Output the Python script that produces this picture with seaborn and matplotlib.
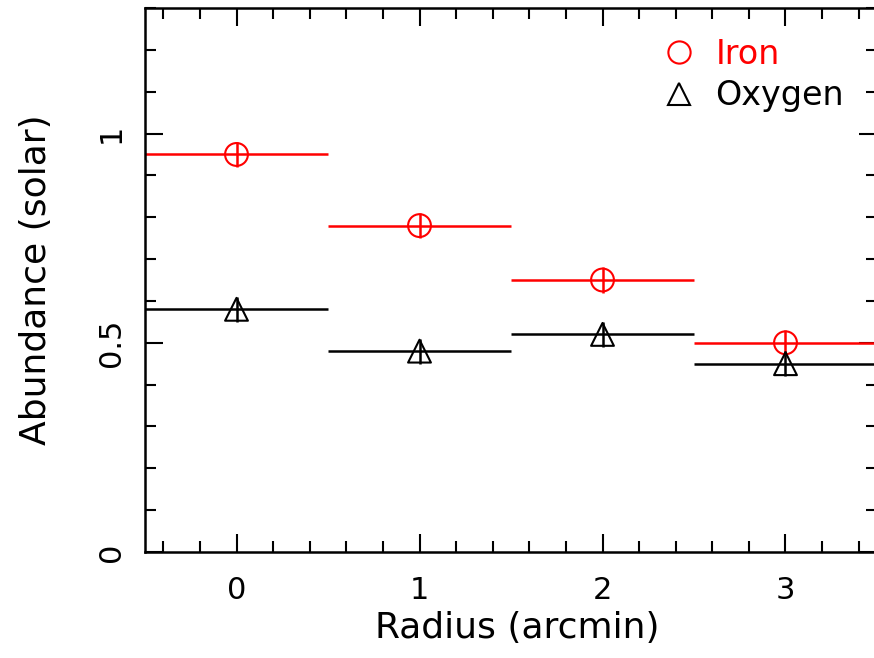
import matplotlib
matplotlib.use("Agg")
import numpy as np
import pandas as pd
import matplotlib.pyplot as plt
import seaborn as sns
from matplotlib.lines import Line2D
from matplotlib.ticker import MultipleLocator

# values
radius = [0, 1, 2, 3]
radius_halfwidth = [0.5, 0.5, 0.5, 0.5]
iron = [0.95, 0.78, 0.65, 0.50]
iron_err = [0.03, 0.03, 0.03, 0.03]
oxygen = [0.58, 0.48, 0.52, 0.45]
oxygen_err = [0.03, 0.03, 0.03, 0.03]

elements = ["Iron", "Oxygen"]
element_colors = {"Iron": "#ff0000", "Oxygen": "#000000"}
element_markers = {"Iron": "o", "Oxygen": "^"}

xticks = [0, 1, 2, 3]
xtick_labels = ["0", "1", "2", "3"]
yticks = [0, 0.5, 1.0]
ytick_labels = ["0", "0.5", "1"]

df = pd.DataFrame({
    "radius": radius * 2,
    "abundance": iron + oxygen,
    "element": ["Iron"] * len(radius) + ["Oxygen"] * len(radius),
})

sns.set_theme(style="ticks")
plt.rcParams["font.family"] = ["DejaVu Sans"]
plt.rcParams.update({"text.color": "black", "axes.labelcolor": "black",
                     "xtick.color": "black", "ytick.color": "black"})

fig = plt.figure(figsize=(8.74, 6.58), dpi=100)
ax = fig.add_axes([145 / 874, 1 - 552 / 658, 732 / 874, 544 / 658])

# error bars (bin widths in x, small errors in y)
for name, vals, errs in [("Iron", iron, iron_err), ("Oxygen", oxygen, oxygen_err)]:
    ax.errorbar(radius, vals, xerr=radius_halfwidth, yerr=errs, fmt="none",
                ecolor=element_colors[name], elinewidth=1.8, capsize=0, zorder=2)

sns.scatterplot(data=df, x="radius", y="abundance", hue="element", style="element",
                palette=element_colors, markers=element_markers, s=270,
                legend=False, ax=ax, zorder=3)
# open markers
for coll in ax.collections:
    if hasattr(coll, "get_offsets") and len(coll.get_offsets()) == len(df):
        fc = coll.get_facecolors()
        coll.set_edgecolors(fc)
        coll.set_facecolor("none")
        coll.set_linewidths(1.5)

ax.set_xlim(-0.5, 3.5)
ax.set_ylim(0, 1.3)
ax.set_xticks(xticks, labels=xtick_labels)
ax.set_yticks(yticks, labels=ytick_labels)
ax.xaxis.set_minor_locator(MultipleLocator(0.2))
ax.yaxis.set_minor_locator(MultipleLocator(0.1))

ax.tick_params(which="both", direction="in", top=True, right=True, width=1.5, color="black")
ax.tick_params(which="major", length=13)
ax.tick_params(which="minor", length=8)
ax.tick_params(axis="x", labelsize=22, pad=17)
ax.tick_params(axis="y", labelsize=22, pad=14, labelrotation=90)
for lbl in ax.get_yticklabels():
    lbl.set_va("center")

for spine in ax.spines.values():
    spine.set_linewidth(1.8)
    spine.set_color("black")

ax.set_xlabel("Radius (arcmin)", fontsize=26)
ax.set_ylabel("Abundance (solar)", fontsize=26)
ax.xaxis.set_label_coords(0.509, -0.108)
ax.yaxis.set_label_coords(-0.126, 0.5)

handles = [Line2D([], [], ls="none", marker=element_markers[e], markersize=16,
                  markerfacecolor="none", markeredgecolor=element_colors[e],
                  markeredgewidth=1.5) for e in elements]
ax.legend(handles, elements, loc="upper right", bbox_to_anchor=(0.955, 0.945),
          frameon=False, fontsize=24, labelcolor=[element_colors[e] for e in elements],
          handlelength=1.0, handletextpad=0.6, borderpad=0, borderaxespad=0,
          labelspacing=0.25)

fig.savefig("out.png", dpi=100)
